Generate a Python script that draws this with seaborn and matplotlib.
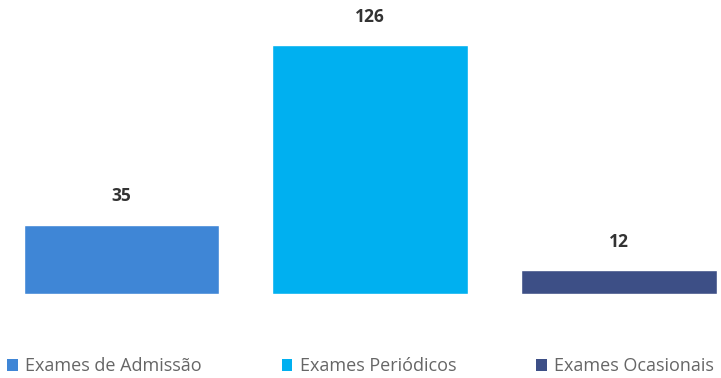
import matplotlib
matplotlib.use("Agg")
import matplotlib.pyplot as plt
import seaborn as sns
import pandas as pd
from matplotlib.patches import Patch

categories = ["Exames de Admissão", "Exames Periódicos", "Exames Ocasionais"]
values = [35, 126, 12]
colors = ["#3f86d6", "#00b0f0", "#3d4f86"]

sns.set_theme(style="white")
plt.rcParams['font.family'] = ['Open Sans', 'DejaVu Sans']

df = pd.DataFrame({"categoria": categories, "valor": values})

fig = plt.figure(figsize=(7.21, 3.78), dpi=100)
ax = fig.add_axes([0.0304, 0.2222, 0.9663, 0.732])
sns.barplot(data=df, x="categoria", y="valor", hue="categoria",
            palette=colors, width=0.787, legend=False, ax=ax, saturation=1)
ax.set_xlim(-0.4, 2.4)
ax.set_ylim(0, 140)
for c in ax.containers:
    ax.bar_label(c, padding=14, fontsize=12.5, fontweight="bold", color="#333333")
ax.set_axis_off()

handles = [Patch(facecolor=col, edgecolor="none") for col in colors]
fig.legend(handles, categories, loc="lower left",
           bbox_to_anchor=(0.0, -0.012, 1.0, 0.06), mode="expand",
           ncol=3, frameon=False, fontsize=13, labelcolor="#666666",
           handlelength=0.6, handleheight=0.6, handletextpad=0.4,
           borderaxespad=0.0)

fig.savefig("out.png", dpi=100)
